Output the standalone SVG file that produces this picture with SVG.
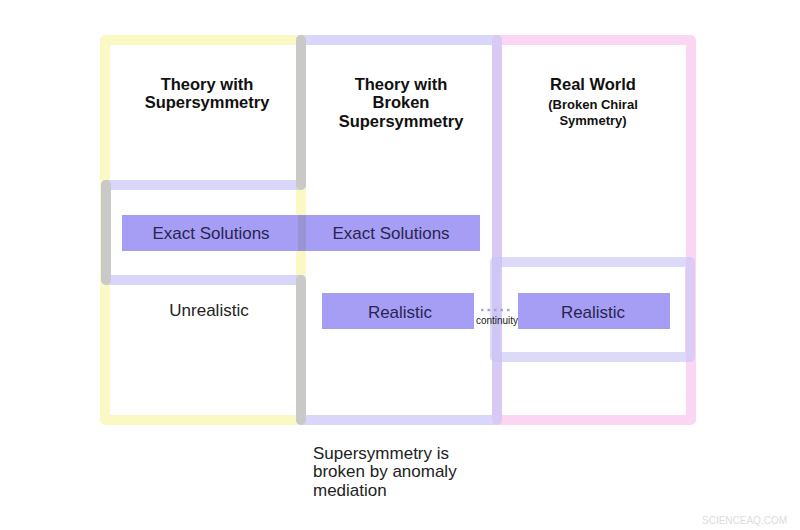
<svg xmlns="http://www.w3.org/2000/svg" width="800" height="530" viewBox="0 0 800 530">
<style>
.o{fill:none;stroke-width:10;stroke-linejoin:round;stroke-linecap:round}
.h{font-family:"Liberation Sans",Arial,sans-serif;font-weight:bold;font-size:16.5px;fill:#111;text-anchor:middle}
.s{font-family:"Liberation Sans",Arial,sans-serif;font-weight:bold;font-size:13px;fill:#111;text-anchor:middle}
.t{font-family:"Liberation Sans",Arial,sans-serif;font-size:17px;fill:#2a2550;text-anchor:middle}
.d{font-family:"Liberation Sans",Arial,sans-serif;font-size:17px;fill:#222}
.bar{fill:#a69ef4}
</style>
<rect width="800" height="530" fill="#fff"/>
<g id="regions">
<rect x="105" y="40" width="196" height="380" class="o" stroke="#f9f7b8" opacity="0.85"/>
<rect x="497" y="40" width="194" height="380" class="o" stroke="#f9c8ee" opacity="0.75"/>
<path d="M301,40 H497 V420 H301 V280 H106 V185 H301 Z" class="o" stroke="#c9c4f6" opacity="0.7"/>
<rect x="495" y="262" width="195" height="95" class="o" stroke="#c9c4f6" opacity="0.65"/>
<path d="M301,40 V185 M106,185 V280 M301,280 V420" class="o" stroke="#c8c8c4" opacity="0.9"/>
</g>
<g id="exact">
<rect x="122" y="215" width="358" height="36" class="bar"/>
<rect x="298" y="215" width="8" height="36" fill="#8e8bb0" opacity="0.5"/>
<text x="211" y="239" class="t">Exact Solutions</text>
<text x="391" y="239" class="t">Exact Solutions</text>
</g>
<g id="real1"><rect x="322" y="293" width="152" height="36" class="bar"/><text x="400" y="318" class="t">Realistic</text></g>
<g id="real2"><rect x="518" y="293" width="152" height="36" class="bar"/><text x="593" y="318" class="t">Realistic</text></g>
<g id="connectors">
<line x1="481" y1="310" x2="513" y2="310" stroke="#a8a8c0" stroke-width="2.5" stroke-dasharray="2.5,4"/>
<text x="497" y="324" font-family="Liberation Sans,Arial,sans-serif" font-size="10" fill="#222" text-anchor="middle">continuity</text>
</g>
<g id="labels">
<text x="207" y="90" class="h">Theory with</text>
<text x="207" y="108" class="h">Supersymmetry</text>
<text x="401" y="90" class="h">Theory with</text>
<text x="401" y="108" class="h">Broken</text>
<text x="401" y="127" class="h">Supersymmetry</text>
<text x="593" y="90" class="h">Real World</text>
<text x="593" y="109" class="s">(Broken Chiral</text>
<text x="593" y="125" class="s">Symmetry)</text>
<text x="209" y="316" class="d" style="text-anchor:middle">Unrealistic</text>
<text x="313" y="459" class="d">Supersymmetry is</text>
<text x="313" y="477" class="d">broken by anomaly</text>
<text x="313" y="496" class="d">mediation</text>
<text x="787" y="524" font-family="Liberation Sans,Arial,sans-serif" font-size="10" fill="#dcdcdc" text-anchor="end">SCIENCEAQ.COM</text>
</g>
</svg>
